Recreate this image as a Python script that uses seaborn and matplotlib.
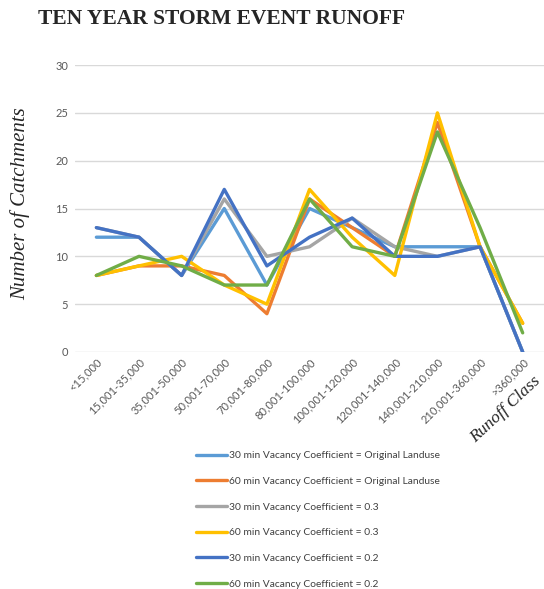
import matplotlib
matplotlib.use("Agg")
import matplotlib.pyplot as plt
import seaborn as sns
import pandas as pd

# Runoff classes (x axis)
runoff_classes = ["<15,000", "15,001-35,000", "35,001-50,000", "50,001-70,000",
                  "70,001-80,000", "80,001-100,000", "100,001-120,000",
                  "120,001-140,000", "140,001-210,000", "210,001-360,000",
                  ">360,000"]

# Number of catchments per runoff class for each scenario
orig_30 = [12, 12, 8, 15, 7, 15, 13, 11, 11, 11, 0]
orig_60 = [8, 9, 9, 8, 4, 16, 13, 10, 24, 11, 3]
vc03_30 = [13, 12, 8, 16, 10, 11, 14, 11, 10, 11, 0]
vc03_60 = [8, 9, 10, 7, 5, 17, 12, 8, 25, 11, 3]
vc02_30 = [13, 12, 8, 17, 9, 12, 14, 10, 10, 11, 0]
vc02_60 = [8, 10, 9, 7, 7, 16, 11, 10, 23, 13, 2]

series_names = [
    "30 min Vacancy Coefficient = Original Landuse",
    "60 min Vacancy Coefficient = Original Landuse",
    "30 min Vacancy Coefficient = 0.3",
    "60 min Vacancy Coefficient = 0.3",
    "30 min Vacancy Coefficient = 0.2",
    "60 min Vacancy Coefficient = 0.2",
]
series_values = [orig_30, orig_60, vc03_30, vc03_60, vc02_30, vc02_60]
colors = ["#5B9BD5", "#ED7D31", "#A5A5A5", "#FFC000", "#4472C4", "#70AD47"]

frames = []
for name, vals in zip(series_names, series_values):
    frames.append(pd.DataFrame({"Runoff Class": runoff_classes,
                                "Catchments": vals,
                                "Scenario": name}))
df = pd.concat(frames, ignore_index=True)

sns.set_style("white")
fig = plt.figure(figsize=(5.44, 5.89), dpi=100)
ax = fig.add_axes([0.138, 0.4024, 0.862, 0.4872])

sns.lineplot(data=df, x="Runoff Class", y="Catchments", hue="Scenario",
             hue_order=series_names, palette=colors, linewidth=2.4,
             sort=False, ax=ax)

ax.set_xlim(-0.5, len(runoff_classes) - 0.5)
ax.set_ylim(0, 30)
ax.set_yticks(range(0, 31, 5))
ax.yaxis.grid(True, color="#D9D9D9", linewidth=1.0)
ax.set_axisbelow(True)
for s in ax.spines.values():
    s.set_visible(False)
ax.tick_params(axis="both", length=0, colors="#595959", labelsize=8)
ax.tick_params(axis="y", pad=5)
ax.tick_params(axis="x", pad=3)
plt.setp(ax.get_xticklabels(), rotation=45, ha="right",
         rotation_mode="anchor", fontfamily="Lato")
plt.setp(ax.get_yticklabels(), fontfamily="Lato")
ax.set_xlabel("")
ax.set_ylabel("")

fig.text(0.07, 0.968, "TEN YEAR STORM EVENT RUNOFF", fontsize=15.5,
         fontweight="bold", family="Liberation Serif", color="#262626",
         ha="left", va="center")
fig.text(0.037, 0.655, "Number of Catchments", fontsize=15, style="italic",
         family="Liberation Serif", color="#262626", rotation=90,
         ha="center", va="center")
fig.text(0.93, 0.305, "Runoff Class", fontsize=12.5, style="italic",
         family="Liberation Serif", color="#262626", rotation=43,
         ha="center", va="center")

handles, labels = ax.get_legend_handles_labels()
ax.get_legend().remove()
leg = fig.legend(handles, labels, loc="upper left",
                 bbox_to_anchor=(0.353, 0.241), frameon=False,
                 fontsize=7.4, handlelength=3.0, handletextpad=0.15,
                 labelspacing=1.6, borderaxespad=0)
for t in leg.get_texts():
    t.set_color("#404040")
    t.set_fontfamily("Lato")
for h in leg.get_lines():
    h.set_linewidth(2.4)

fig.savefig("out.png", dpi=100)
